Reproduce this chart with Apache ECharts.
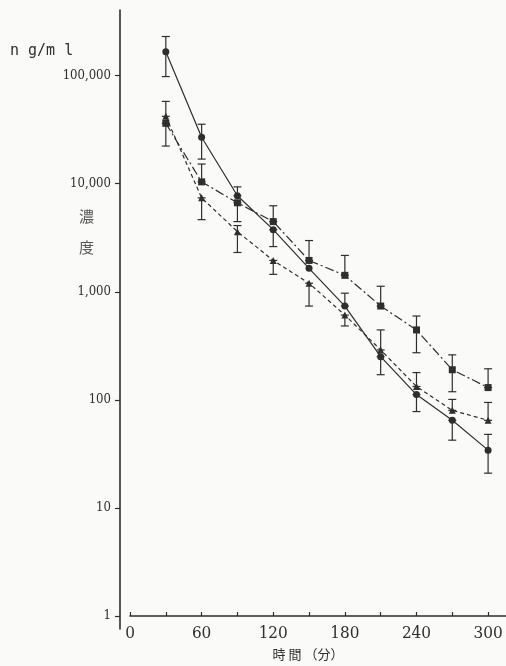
<!DOCTYPE html>
<html>
<head>
<meta charset="utf-8">
<script src="https://cdn.jsdelivr.net/npm/echarts@6/dist/echarts.min.js"></script>
<style>
  html, body { margin: 0; padding: 0; background: #fafaf8; }
  #chart { width: 506px; height: 666px; }
</style>
</head>
<body>
<div id="chart"></div>
<script>
// minutes after dosing
const times = [30, 60, 90, 120, 150, 180, 210, 240, 270, 300];

// ● solid line
const circleVals = [166000, 26900, 7730, 3760, 1650, 738, 251, 112, 64.7, 34.3];
const circleHi   = [230000, 35500, 9350, 3760, 1650, 971, 251, 112, 64.7, 48];
const circleLo   = [98000, 16900, 7730, 2620, 1650, 738, 171, 78, 42.4, 21];

// ■ dash-dot line
const squareVals = [36200, 10400, 6660, 4460, 1950, 1420, 738, 444, 190, 130];
const squareHi   = [36200, 15200, 6660, 6250, 2980, 2170, 1125, 597, 261, 194];
const squareLo   = [22300, 10400, 4460, 4460, 1950, 1420, 738, 273, 119, 130];

// ▲ dashed line
const triVals = [42000, 7400, 3600, 1950, 1200, 609, 290, 133, 80, 64.7];
const triHi   = [57700, 7400, 4100, 1950, 1200, 609, 444, 179, 101, 94.7];
const triLo   = [42000, 4650, 2310, 1450, 738, 483, 290, 133, 80, 64.7];

// y ticks as powers of ten: 1 ... 100,000
const yTickPowers = [0, 1, 2, 3, 4, 5];
const xLabels = [0, 60, 120, 180, 240, 300];
const xTicks = [0, 30, 60, 90, 120, 150, 180, 210, 240, 270, 300];

// log range of the axis line (10^-0.12 .. 10^5.61)
const yLogMin = -0.1195;
const yLogMax = 5.607;

const ink = '#2e2e2e';
const numFont = '"DejaVu Serif Condensed", "DejaVu Serif", serif';

const chart = echarts.init(document.getElementById('chart'));

const pairs = (vals) => times.map((t, i) => [t, vals[i]]);
const bars = (lo, hi) => times.map((t, i) => [t, lo[i], hi[i]]);

function renderErr(params, api) {
  const x = api.value(0);
  const lo = api.coord([x, api.value(1)]);
  const hi = api.coord([x, api.value(2)]);
  if (Math.abs(lo[1] - hi[1]) < 1) return null;
  const w = 4;
  const style = { stroke: ink, lineWidth: 1.2 };
  return {
    type: 'group',
    children: [
      { type: 'line', shape: { x1: lo[0], y1: lo[1], x2: hi[0], y2: hi[1] }, style },
      { type: 'line', shape: { x1: lo[0] - w, y1: lo[1], x2: lo[0] + w, y2: lo[1] }, style },
      { type: 'line', shape: { x1: hi[0] - w, y1: hi[1], x2: hi[0] + w, y2: hi[1] }, style },
    ],
  };
}

const lineSeries = (vals, symbol, size, dash) => ({
  type: 'line',
  data: pairs(vals),
  symbol,
  symbolSize: size,
  showSymbol: true,
  itemStyle: { color: ink },
  lineStyle: { color: ink, width: 1.2, type: dash },
  z: 3,
});

const errSeries = (lo, hi) => ({
  type: 'custom',
  data: bars(lo, hi),
  renderItem: renderErr,
  encode: { x: 0, y: [1, 2] },
  z: 2,
});

const option = {
  backgroundColor: '#fafaf8',
  animation: false,
  grid: { left: 130, right: 0, top: 10, bottom: 33 },
  xAxis: {
    type: 'value',
    min: 0,
    max: 315,
    offset: -13,
    name: '時 間 （分）',
    nameLocation: 'middle',
    nameGap: 32,
    nameTextStyle: { color: ink, fontSize: 13, fontFamily: '"Noto Sans CJK JP", sans-serif', padding: [0, 20, 0, 0] },
    axisLine: { onZero: false, lineStyle: { color: ink, width: 1.6 } },
    axisTick: { show: true, inside: true, length: 4, customValues: xTicks, lineStyle: { color: ink, width: 1.2 } },
    axisLabel: {
      customValues: xLabels,
      color: ink,
      fontSize: 17,
      fontFamily: numFont,
      margin: 9,
    },
    splitLine: { show: false },
  },
  yAxis: [
    {
      // data axis (log), drawn by the visible axis below
      type: 'log',
      logBase: 10,
      min: Math.pow(10, yLogMin),
      max: Math.pow(10, yLogMax),
      show: false,
    },
    {
      // visible axis in powers of ten, same range
      type: 'value',
      min: yLogMin,
      max: yLogMax,
      position: 'left',
      offset: 10,
      axisLine: { show: true, onZero: false, lineStyle: { color: ink, width: 1.6 } },
      axisTick: { show: true, length: 5, customValues: yTickPowers, lineStyle: { color: ink, width: 1.2 } },
      axisLabel: {
        customValues: yTickPowers,
        color: ink,
        fontSize: 13,
        fontFamily: numFont,
        margin: 9,
        formatter: (v) => Math.pow(10, Math.round(v)).toLocaleString('en-US'),
      },
      splitLine: { show: false },
    },
  ],
  graphic: [
    {
      type: 'text', left: 10, top: 44,
      style: { text: 'n g/m l', fill: ink, font: '15px "DejaVu Sans Mono", monospace', letterSpacing: 5 },
    },
    {
      type: 'text', left: 79, top: 209,
      style: { text: '濃', fill: '#555', font: '15px "Noto Sans CJK JP", sans-serif' },
    },
    {
      type: 'text', left: 79, top: 240,
      style: { text: '度', fill: '#555', font: '15px "Noto Sans CJK JP", sans-serif' },
    },
  ],
  series: [
    errSeries(circleLo, circleHi),
    errSeries(squareLo, squareHi),
    errSeries(triLo, triHi),
    lineSeries(circleVals, 'circle', 7, 'solid'),
    lineSeries(squareVals, 'rect', 7, [9, 3, 2, 3]),
    lineSeries(triVals, 'triangle', 7, [4, 3]),
  ],
};

chart.setOption(option);
</script>
</body>
</html>
